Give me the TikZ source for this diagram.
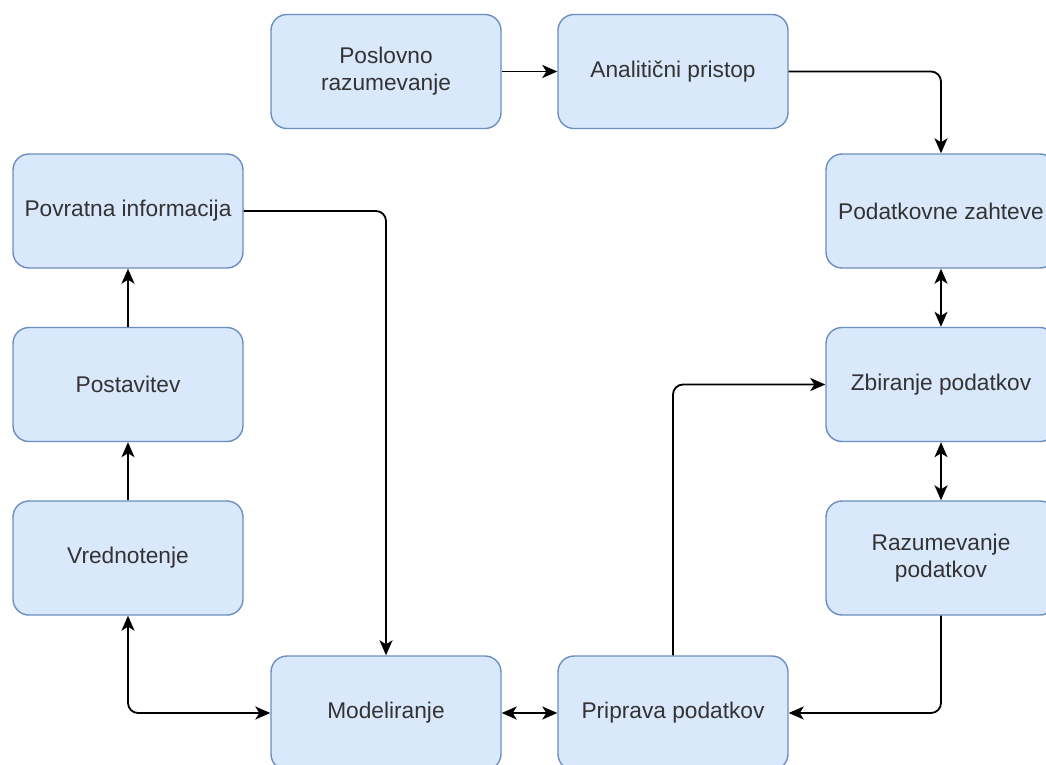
\documentclass[tikz,border=0pt]{standalone}
\usepackage{fontspec}
\setmainfont{Liberation Sans}
\usetikzlibrary{arrows.meta}
\definecolor{boxfill}{HTML}{DAE8FC}
\definecolor{boxline}{HTML}{6C8EBF}
\definecolor{txt}{HTML}{333333}
\begin{document}
\begin{tikzpicture}[x=1pt,y=-1pt,
  stage/.style={draw=boxline, fill=boxfill, line width=1.4pt, rounded corners=16pt,
    minimum width=230pt, minimum height=114pt, inner sep=0pt, align=center,
    text=txt, font=\fontsize{22.7}{27}\selectfont},
  link/.style={line width=1.8pt, rounded corners=10pt, -{Stealth[length=15pt,width=13pt,inset=4pt]}},
  both/.style={line width=1.8pt, rounded corners=10pt, {Stealth[length=15pt,width=13pt,inset=4pt]}-{Stealth[length=15pt,width=13pt,inset=4pt]}}]
\useasboundingbox (0,0) rectangle (1046,765);
\node[stage] (pos) at (386,71.5) {Poslovno\\razumevanje};
\node[stage] (anal) at (673,71.5) {Analitični pristop};
\node[stage] (podz) at (941,211) {Podatkovne zahteve};
\node[stage] (zbir) at (941,384.5) {Zbiranje podatkov};
\node[stage] (razum) at (941,558) {Razumevanje\\podatkov};
\node[stage] (prip) at (673,713) {Priprava podatkov};
\node[stage] (model) at (386,713) {Modeliranje};
\node[stage] (vred) at (128,558) {Vrednotenje};
\node[stage] (post) at (128,384.5) {Postavitev};
\node[stage] (povr) at (128,211) {Povratna informacija};
\draw[link] (pos.east) -- (anal.west);
\draw[link] (anal.east) -| (podz.north);
\draw[both] (podz.south) -- (zbir.north);
\draw[both] (zbir.south) -- (razum.north);
\draw[link] (razum.south) |- (prip.east);
\draw[link] (prip.north) |- (zbir.west);
\draw[both] (prip.west) -- (model.east);
\draw[link] (povr.east) -| (model.north);
\draw[both] (vred.south) |- (model.west);
\draw[link] (vred.north) -- (post.south);
\draw[link] (post.north) -- (povr.south);
\end{tikzpicture}
\end{document}
